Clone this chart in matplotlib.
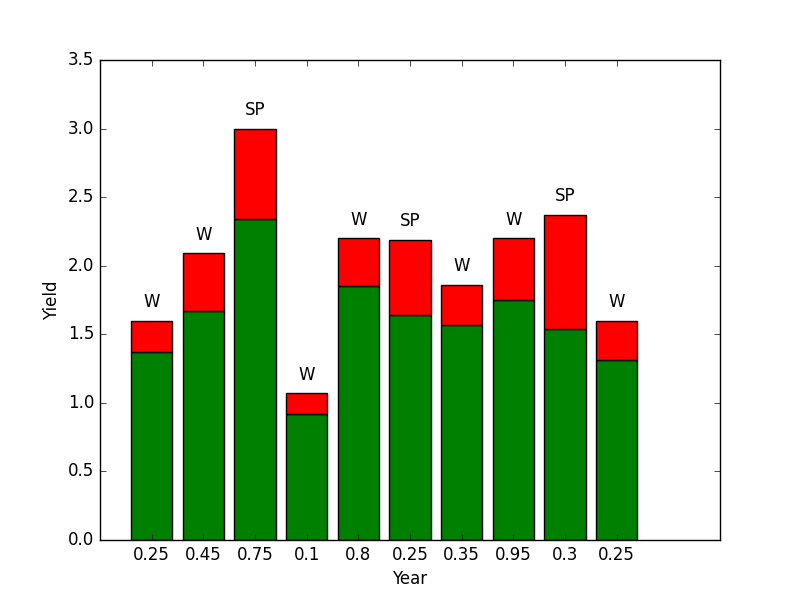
import matplotlib
matplotlib.use('Agg')
import matplotlib.pyplot as plt
import numpy as np

plt.style.use('classic')

tick_labels = ['0.25', '0.45', '0.75', '0.1', '0.8', '0.25', '0.35', '0.95', '0.3', '0.25']
green = [1.37, 1.67, 2.34, 0.92, 1.85, 1.64, 1.57, 1.75, 1.54, 1.31]
total = [1.60, 2.09, 3.00, 1.07, 2.20, 2.19, 1.86, 2.20, 2.37, 1.60]
tags = ['W', 'W', 'SP', 'W', 'W', 'SP', 'W', 'W', 'SP', 'W']

red = [t - g for t, g in zip(total, green)]
x = np.arange(len(green))

fig, ax = plt.subplots(figsize=(8, 6), dpi=100)
fig.subplots_adjust(left=0.125, right=0.9, bottom=0.1, top=0.9)
ax.bar(x, green, width=0.8, align='edge', color='green', edgecolor='black')
ax.bar(x, red, width=0.8, align='edge', bottom=green, color='red', edgecolor='black')
for xi, t, s in zip(x, total, tags):
    ax.text(xi + 0.4, t + 0.07, s, ha='center', va='bottom', fontsize=12)

ax.set_xticks(x + 0.4)
ax.set_xticklabels(tick_labels)
ax.set_xlim(-0.6, 11.4)
ax.set_ylim(0, 3.5)
ax.set_xlabel('Year')
ax.set_ylabel('Yield')
fig.savefig('out.png', dpi=100)
